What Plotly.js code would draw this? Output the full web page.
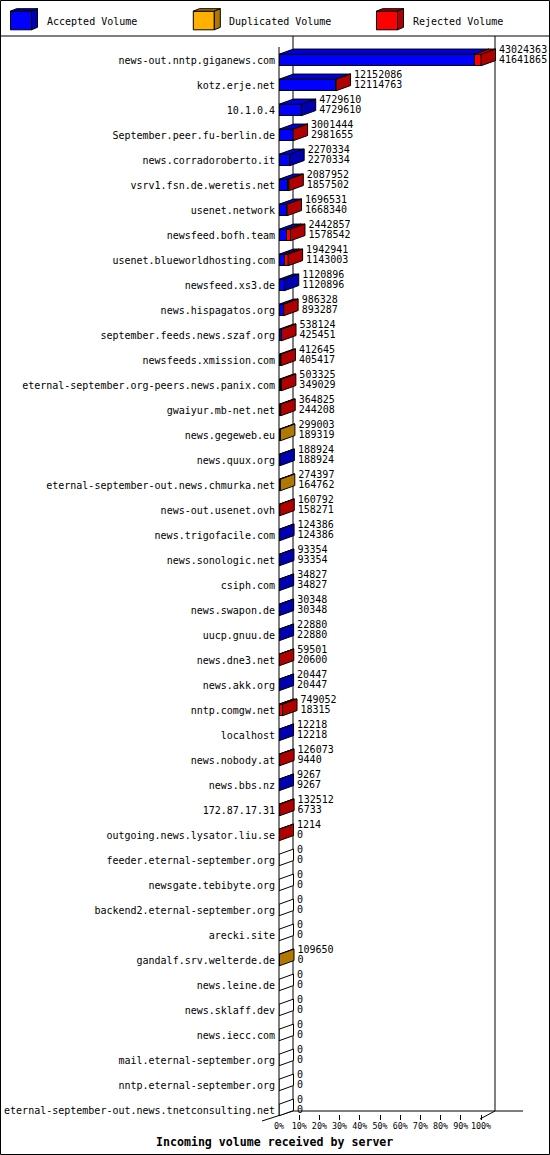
<!DOCTYPE html>
<html>
<head>
<meta charset="utf-8">
<script src="https://cdn.plot.ly/plotly-3.0.1.min.js"></script>
<style>body{margin:0;background:#fff}</style>
</head>
<body>
<div id="chart" style="width:550px;height:1155px"></div>
<script>
// servers feeding us, in the order of the report
var servers = [
  'news-out.nntp.giganews.com', 'kotz.erje.net', '10.1.0.4', 'September.peer.fu-berlin.de',
  'news.corradoroberto.it', 'vsrv1.fsn.de.weretis.net', 'usenet.network', 'newsfeed.bofh.team',
  'usenet.blueworldhosting.com', 'newsfeed.xs3.de', 'news.hispagatos.org', 'september.feeds.news.szaf.org',
  'newsfeeds.xmission.com', 'eternal-september.org-peers.news.panix.com', 'gwaiyur.mb-net.net', 'news.gegeweb.eu',
  'news.quux.org', 'eternal-september-out.news.chmurka.net', 'news-out.usenet.ovh', 'news.trigofacile.com',
  'news.sonologic.net', 'csiph.com', 'news.swapon.de', 'uucp.gnuu.de',
  'news.dne3.net', 'news.akk.org', 'nntp.comgw.net', 'localhost',
  'news.nobody.at', 'news.bbs.nz', '172.87.17.31', 'outgoing.news.lysator.liu.se',
  'feeder.eternal-september.org', 'newsgate.tebibyte.org', 'backend2.eternal-september.org', 'arecki.site',
  'gandalf.srv.welterde.de', 'news.leine.de', 'news.sklaff.dev', 'news.iecc.com',
  'mail.eternal-september.org', 'nntp.eternal-september.org', 'eternal-september-out.news.tnetconsulting.net'
];

// top number of each row
var offeredVolume = [
  43024363, 12152086, 4729610, 3001444, 2270334, 2087952, 1696531, 2442857,
  1942941, 1120896, 986328, 538124, 412645, 503325, 364825, 299003,
  188924, 274397, 160792, 124386, 93354, 34827, 30348, 22880,
  59501, 20447, 749052, 12218, 126073, 9267, 132512, 1214,
  0, 0, 0, 0, 109650, 0, 0, 0, 0, 0, 0
];

// bottom number of each row
var acceptedVolume = [
  41641865, 12114763, 4729610, 2981655, 2270334, 1857502, 1668340, 1578542,
  1143003, 1120896, 893287, 425451, 405417, 349029, 244208, 189319,
  188924, 164762, 158271, 124386, 93354, 34827, 30348, 22880,
  20600, 20447, 18315, 12218, 9440, 9267, 6733, 0,
  0, 0, 0, 0, 0, 0, 0, 0, 0, 0, 0
];

// what the rest of the volume was: R = rejected, D = duplicated
var restKind = [
  'R', 'R', '', 'R', '', 'R', 'R', 'R',
  'R', '', 'R', 'R', 'R', 'R', 'R', 'D',
  '', 'D', 'R', '', '', '', '', '',
  'R', '', 'R', '', 'R', '', 'R', 'R',
  '', '', '', '', 'D', '', '', '', '', '', ''
];

var tickPct = [0, 10, 20, 30, 40, 50, 60, 70, 80, 90, 100];

var W = 550, H = 1155;
var pxPerPct = 2.02, pxPerRow = 25;
var DX = 14.5 / pxPerPct, DY = 5.2 / pxPerRow, BW = 0.46;
var TXT = 3.5 / pxPerPct;
var mono = 'DejaVu Sans Mono, monospace';

var cols = {
  acc: {front: '#0000ff', top: '#0000d8', side: '#0000b0'},
  dup: {front: '#ffb000', top: '#d89400', side: '#b07800'},
  rej: {front: '#ff0000', top: '#d80000', side: '#b00000'}
};

var maxVol = Math.max.apply(null, offeredVolume);
var rows = servers.map(function (s, i) { return i; });
var accPct = acceptedVolume.map(function (v) { return v / maxVol * 100; });
var dupPct = offeredVolume.map(function (v, i) {
  return restKind[i] == 'D' ? (v - acceptedVolume[i]) / maxVol * 100 : 0;
});
var rejPct = offeredVolume.map(function (v, i) {
  return restKind[i] == 'R' ? (v - acceptedVolume[i]) / maxVol * 100 : 0;
});
var endPct = offeredVolume.map(function (v) { return v / maxVol * 100; });

function frontBar(name, vals, c) {
  return {
    type: 'bar', orientation: 'h', name: name, y: rows, x: vals, width: BW,
    marker: {color: c.front, line: {color: '#000', width: 1}},
    hoverinfo: 'skip'
  };
}

var data = [
  frontBar('Accepted Volume', accPct, cols.acc),
  frontBar('Duplicated Volume', dupPct, cols.dup),
  frontBar('Rejected Volume', rejPct, cols.rej),
  {
    type: 'scatter', mode: 'text', x: endPct.map(function (e) { return e + DX + TXT; }),
    y: rows.map(function (r) { return r - 0.4; }),
    text: offeredVolume.map(String), textposition: 'middle right',
    textfont: {family: mono, size: 10, color: '#000'}, cliponaxis: false, hoverinfo: 'skip'
  },
  {
    type: 'scatter', mode: 'text', x: endPct.map(function (e) { return e + DX + TXT; }),
    y: rows.map(function (r) { return r + 0.02; }),
    text: acceptedVolume.map(String), textposition: 'middle right',
    textfont: {family: mono, size: 10, color: '#000'}, cliponaxis: false, hoverinfo: 'skip'
  }
];

// 3d top and side faces of every bar
var shapes = [];
function poly(pts, fill, ref) {
  var d = 'M' + pts.map(function (p) { return p[0] + ',' + p[1]; }).join('L') + 'Z';
  shapes.push({type: 'path', path: d, xref: ref || 'x', yref: ref || 'y', layer: 'above',
    fillcolor: fill, line: {color: '#000', width: 1}});
}
rows.forEach(function (i) {
  var yt = i - BW / 2, yb = i + BW / 2;
  var segs = [[accPct[i], cols.acc], [dupPct[i], cols.dup], [rejPct[i], cols.rej]];
  var a = 0, last = null;
  segs.forEach(function (s) {
    if (s[0] <= 0) return;
    var b = a + s[0];
    poly([[a, yt], [b, yt], [b + DX, yt - DY], [a + DX, yt - DY]], s[1].top);
    a = b; last = s[1];
  });
  poly([[a, yt], [a + DX, yt - DY], [a + DX, yb - DY], [a, yb]], last ? last.side : '#fff');
});

// frame lines, pixel positions
function px(x) { return x / W; }
function py(y) { return 1 - y / H; }
function line(x0, y0, x1, y1) {
  shapes.push({type: 'line', xref: 'paper', yref: 'paper', x0: px(x0), y0: py(y0), x1: px(x1), y1: py(y1),
    line: {color: '#000', width: 1}, layer: 'below'});
}
line(293, 36, 293, 1111);
line(495, 36, 495, 1111);
line(293, 1111, 523, 1111);
line(262, 1121, 293, 1111);
line(480, 1119, 495, 1111);
line(0, 36, 550, 36);
shapes.push({type: 'line', xref: 'paper', yref: 'paper', x0: px(279), y0: py(47), x1: px(279), y1: py(1116),
  line: {color: '#000', width: 1}, layer: 'above'});
shapes.push({type: 'rect', xref: 'paper', yref: 'paper', x0: px(0.5), y0: py(0.5), x1: px(549.5), y1: py(1154.5),
  line: {color: '#000', width: 1}, fillcolor: 'rgba(0,0,0,0)'});

// legend boxes
var annotations = [];
var legendItems = [['Accepted Volume', cols.acc, 10.5], ['Duplicated Volume', cols.dup, 193.3], ['Rejected Volume', cols.rej, 376.5]];
legendItems.forEach(function (it) {
  var x0 = it[2], x1 = x0 + 21, t = 11.2, b = 29.8, dx = 6, dy = 2.5;
  poly([[px(x0), py(t)], [px(x1), py(t)], [px(x1), py(b)], [px(x0), py(b)]], it[1].front, 'paper');
  poly([[px(x0), py(t)], [px(x1), py(t)], [px(x1 + dx), py(t - dy)], [px(x0 + dx), py(t - dy)]], it[1].side, 'paper');
  poly([[px(x1), py(t)], [px(x1 + dx), py(t - dy)], [px(x1 + dx), py(b - dy)], [px(x1), py(b)]], it[1].side, 'paper');
  annotations.push({xref: 'paper', yref: 'paper', x: px(x0 + 34), y: py(21), xanchor: 'left', yanchor: 'middle',
    text: it[0], showarrow: false, font: {family: mono, size: 10, color: '#000'}});
});

annotations.push({xref: 'paper', yref: 'paper', x: px(274), y: py(1142), xanchor: 'center', yanchor: 'middle',
  text: '<b>Incoming volume received by server</b>', showarrow: false,
  font: {family: mono, size: 11.6, color: '#000'}});

var layout = {
  width: W, height: H,
  margin: {l: 0, r: 0, t: 0, b: 0},
  paper_bgcolor: '#fff', plot_bgcolor: 'rgba(0,0,0,0)',
  barmode: 'stack', bargap: 0, showlegend: false,
  xaxis: {
    domain: [px(279), px(523)], range: [0, 244 / pxPerPct],
    tickvals: tickPct, ticktext: tickPct.map(function (t) { return t + '%'; }), tickangle: 0,
    ticks: 'inside', ticklen: 5, tickcolor: '#000', showgrid: false, zeroline: false, showline: false,
    tickfont: {family: mono, size: 8.4, color: '#000'}, fixedrange: true
  },
  yaxis: {
    domain: [py(1120), py(36)], range: [42.4, -0.96],
    tickvals: rows, ticktext: servers, ticks: '', ticklabelstandoff: 3,
    showgrid: false, zeroline: false, showline: false,
    tickfont: {family: mono, size: 10, color: '#000'}, fixedrange: true
  },
  shapes: shapes,
  annotations: annotations
};

Plotly.newPlot('chart', data, layout, {displayModeBar: false, staticPlot: true});
</script>
</body>
</html>
